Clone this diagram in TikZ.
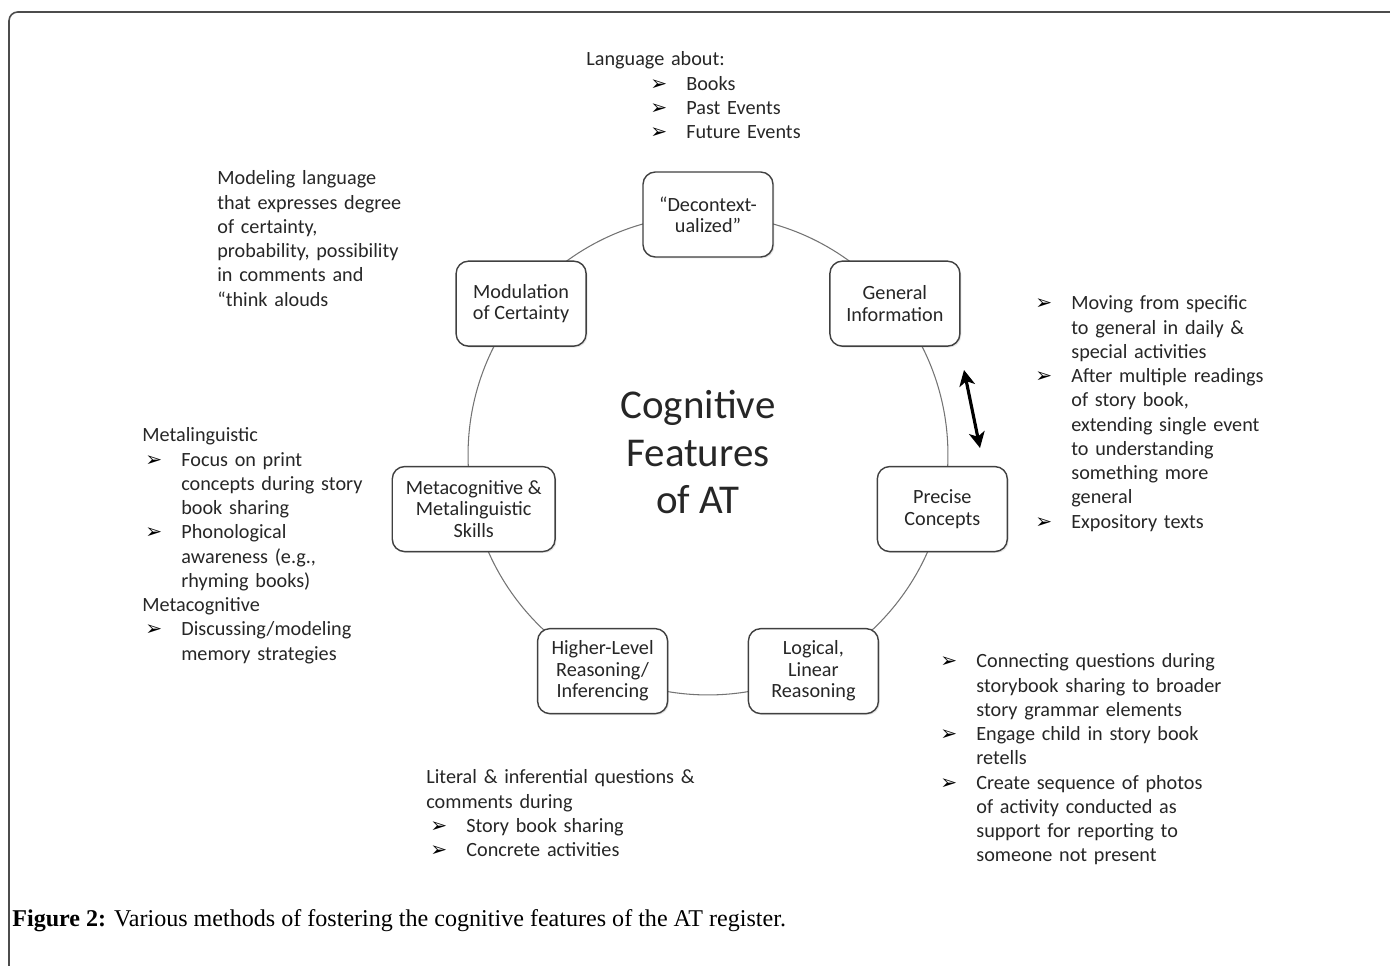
\documentclass[tikz,border=0pt]{standalone}
\usepackage{fontspec}
\setmainfont{Carlito}
\newfontfamily\bulfont{DejaVu Sans}
\newfontfamily\capfont{Liberation Serif}
\usetikzlibrary{arrows.meta,shadows}

% bullet items with a hanging text edge
\newlength{\bgap}\setlength{\bgap}{0.72cm}
\newcommand{\itm}[2][0pt]{{\leftskip=\dimexpr#1+\bgap\relax\noindent\llap{\makebox[\bgap][l]{\color{black}\bulfont\bfseries\fontsize{11.5}{10}\selectfont ➢}}#2\par}}

\begin{document}
\begin{tikzpicture}[x=0.02cm, y=0.02cm]

% definitions
\tikzstyle{box} = [rectangle, rounded corners=7pt, minimum width=2.6cm, minimum height=1.7cm, inner xsep=0.27cm, align=center, draw=black!75, line width=0.8pt, fill=white, text=black!85, font=\fontsize{11.5}{12.2}\selectfont, drop shadow={shadow xshift=0.8pt, shadow yshift=-0.8pt, opacity=0.2}]
\tikzstyle{note} = [anchor=base west, inner sep=0pt, text width=7cm, align=left, text=black!85, font=\fontsize{11.5}{13.8}\selectfont]
\tikzstyle{arrow} = [{Stealth[length=9pt, width=9pt, inset=2.5pt]}-{Stealth[length=9pt, width=9pt, inset=2.5pt]}, line width=1.8pt]

% frame
\useasboundingbox (0,0) rectangle (1390,966);
\draw [black!70, line width=0.9pt, rounded corners=5pt] (9,-5) -- (9,954) -- (1395,954);

% the graph
\node (ring) [circle, draw=black!55, line width=0.6pt, minimum size=9.6cm, inner sep=0pt] at (708,511) {};

\node (dec) [box] at (ring.90) {“Decontext-\\ualized”};
\node (gen) [box] at (ring.39) {General\\Information};
\node (pre) [box] at (ring.-13) {Precise\\Concepts};
\node (log) [box] at (ring.-64) {Logical,\\Linear\\Reasoning};
\node (hig) [box] at (ring.-116) {Higher-Level\\Reasoning/\\Inferencing};
\node (met) [box] at (ring.-167) {Metacognitive \&\\Metalinguistic\\Skills};
\node (mod) [box] at (ring.141) {Modulation\\of Certainty};

\node (title) [align=center, text=black!85, font=\fontsize{23.3}{27.2}\selectfont] at (698,514) {Cognitive\\Features\\of AT};

\coordinate (up) at (964,596);
\coordinate (dn) at (980,518);
\draw [arrow] (up) -- (dn);

% the notes
\node (lang) [note] at (586,900) {Language about:\par\itm[1.28cm]{Books}\itm[1.28cm]{Past Events}\itm[1.28cm]{Future Events}};

\node (model) [note] at (217,781) {Modeling language\\that expresses degree\\of certainty,\\probability, possibility\\in comments and\\“think alouds};

\node (spec) [note] at (1035,656) {\itm{Moving from specific\\to general in daily \&\\special activities}\itm{After multiple readings\\of story book,\\extending single event\\to understanding\\something more\\general}\itm{Expository texts}};

\node (meta) [note] at (142,524) {Metalinguistic\par\itm[0.06cm]{Focus on print\\concepts during story\\book sharing}\itm[0.06cm]{Phonological\\awareness (e.g.,\\rhyming books)}Metacognitive\par\itm[0.06cm]{Discussing/modeling\\memory strategies}};

\node (lit) [note] at (426,182) {Literal \& inferential questions \&\\comments during\par\itm[0.08cm]{Story book sharing}\itm[0.08cm]{Concrete activities}};

\node (conn) [note] at (940,298) {\itm{Connecting questions during\\storybook sharing to broader\\story grammar elements}\itm{Engage child in story book\\retells}\itm{Create sequence of photos\\of activity conducted as\\support for reporting to\\someone not present}};

% caption
\node (cap) [anchor=base west, inner sep=0pt, font=\capfont\fontsize{13.7}{15}\selectfont] at (12,39) {\textbf{Figure 2:} Various methods of fostering the cognitive features of the AT register.};

\end{tikzpicture}
\end{document}
